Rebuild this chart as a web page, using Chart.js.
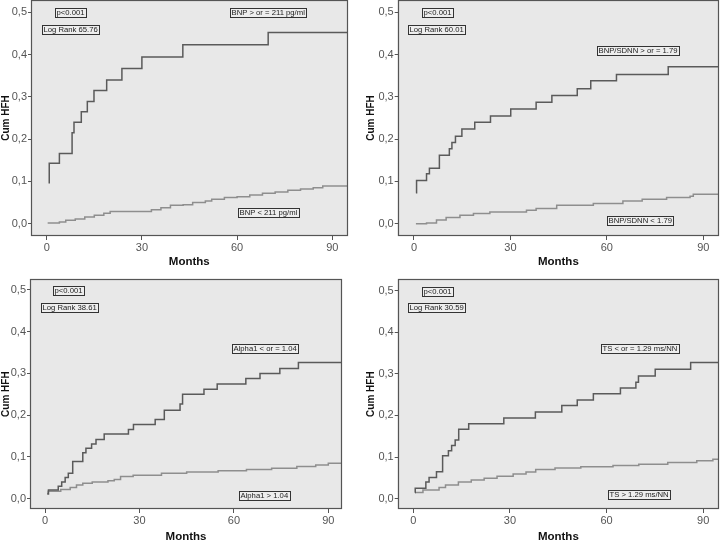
<!DOCTYPE html>
<html>
<head>
<meta charset="utf-8">
<script src="https://cdn.jsdelivr.net/npm/chart.js@4/dist/chart.umd.min.js"></script>
<style>
  html, body { margin: 0; padding: 0; background: #fff; }
  body { width: 720px; height: 540px; overflow: hidden; position: relative; }
  canvas { position: absolute; }
</style>
</head>
<body>
<canvas id="c1" width="360" height="272" style="left:0;top:-2px"></canvas>
<canvas id="c2" width="360" height="272" style="left:360px;top:-2px"></canvas>
<canvas id="c3" width="360" height="276" style="left:0;top:270px"></canvas>
<canvas id="c4" width="360" height="276" style="left:360px;top:270px"></canvas>
<script>
// tick labels
const xTicks = [0, 30, 60, 90];
const yTicks = [0, 0.1, 0.2, 0.3, 0.4, 0.5];

// BNP
const bnpHighMonths = [0.8, 0.8, 4.0, 8.0, 8.6, 10.9, 12.8, 14.9, 18.9, 23.7, 30.0, 42.9, 69.8, 95];
const bnpHighCum    = [0.095, 0.143, 0.166, 0.215, 0.240, 0.265, 0.289, 0.315, 0.340, 0.367, 0.394, 0.423, 0.452, 0.452];
const bnpLowMonths  = [0.3, 4, 6, 9, 12, 15, 18, 20, 33, 36, 39, 43, 46, 50, 52, 56, 60, 64, 68, 72, 76, 80, 84, 87, 95];
const bnpLowCum     = [0.002, 0.004, 0.008, 0.011, 0.016, 0.020, 0.025, 0.029, 0.033, 0.038, 0.044, 0.045, 0.050, 0.054, 0.058, 0.062, 0.064, 0.068, 0.072, 0.075, 0.079, 0.082, 0.085, 0.089, 0.089];

// BNP/SDNN
const bsHighMonths = [0.6, 0.8, 3.9, 4.8, 7.9, 11.0, 11.8, 12.9, 14.9, 18.9, 23.8, 30.1, 38.0, 42.9, 50.8, 55.0, 63.0, 79.1, 95];
const bsHighCum    = [0.073, 0.102, 0.118, 0.131, 0.162, 0.177, 0.192, 0.207, 0.224, 0.240, 0.255, 0.271, 0.287, 0.303, 0.319, 0.338, 0.353, 0.371, 0.371];
const bsLowMonths  = [0.6, 3.9, 7, 10, 14.3, 18.5, 23.6, 35, 38, 44.4, 55.8, 65, 71, 78.6, 85.9, 86.9, 95];
const bsLowCum     = [0.0, 0.002, 0.009, 0.015, 0.020, 0.024, 0.028, 0.032, 0.036, 0.044, 0.048, 0.054, 0.058, 0.062, 0.065, 0.070, 0.070];

// Alpha1
const alphaLowMonths = [0.7, 1.1, 4.2, 5.3, 6.4, 7.4, 8.8, 12.0, 13.0, 14.8, 16.2, 18.8, 26.5, 28.1, 35.0, 37.9, 42.9, 43.7, 50.5, 54.7, 63.8, 68.3, 74.6, 80.5, 95];
const alphaLowCum    = [0.011, 0.021, 0.030, 0.040, 0.051, 0.061, 0.089, 0.110, 0.121, 0.131, 0.142, 0.155, 0.166, 0.178, 0.190, 0.212, 0.227, 0.250, 0.262, 0.275, 0.288, 0.300, 0.312, 0.326, 0.326];
const alphaHighMonths = [0.7, 1, 5, 8, 10, 12, 15, 20, 22, 24, 28, 37, 45, 55, 64, 72, 80, 86, 90, 95];
const alphaHighCum    = [0.013, 0.018, 0.022, 0.027, 0.033, 0.037, 0.040, 0.043, 0.046, 0.053, 0.056, 0.061, 0.064, 0.067, 0.070, 0.073, 0.077, 0.081, 0.085, 0.085];

// TS
const tsLowMonths = [0.5, 0.6, 3.9, 4.9, 7.2, 9.1, 10.9, 11.9, 13.0, 14.1, 17.2, 28.1, 37.9, 46.1, 50.9, 55.9, 64.3, 69.1, 69.9, 75.1, 86.1, 95];
const tsLowCum    = [0.015, 0.025, 0.040, 0.051, 0.065, 0.103, 0.115, 0.128, 0.141, 0.167, 0.180, 0.194, 0.208, 0.224, 0.237, 0.252, 0.266, 0.280, 0.295, 0.311, 0.327, 0.327];
const tsHighMonths = [0.5, 3, 8, 10, 14, 18, 22, 26, 31, 35, 38, 44, 52, 62, 70, 79, 88, 93, 95];
const tsHighCum    = [0.015, 0.021, 0.027, 0.033, 0.040, 0.045, 0.049, 0.054, 0.059, 0.064, 0.070, 0.074, 0.077, 0.080, 0.083, 0.087, 0.091, 0.095, 0.095];

Chart.defaults.font.family = '"Liberation Sans", Arial, sans-serif';
Chart.defaults.animation = false;

const plotFrame = {
  id: 'plotFrame',
  beforeDraw(chart) {
    const { ctx, chartArea: a } = chart;
    ctx.save();
    ctx.fillStyle = '#e8e8e8';
    ctx.fillRect(a.left, a.top, a.width, a.height);
    ctx.restore();
  },
  afterDatasetsDraw(chart) {
    const { ctx, chartArea: a } = chart;
    ctx.save();
    ctx.strokeStyle = '#555';
    ctx.lineWidth = 1.2;
    ctx.strokeRect(Math.round(a.left) + 0.5, Math.round(a.top) + 0.5, Math.round(a.width) - 1, Math.round(a.height) - 1);
    ctx.restore();
  }
};

// boxed text notes, anchored at left edge / vertical centre in data units
const boxLabels = {
  id: 'boxLabels',
  afterDraw(chart, args, opts) {
    const { ctx } = chart;
    const x = chart.scales.x, y = chart.scales.y;
    ctx.save();
    ctx.font = '7.7px "Liberation Sans", Arial, sans-serif';
    ctx.textBaseline = 'middle';
    (opts.items || []).forEach(it => {
      const px = Math.round(x.getPixelForValue(it.x));
      const py = Math.round(y.getPixelForValue(it.y));
      const w = Math.round(ctx.measureText(it.text).width + 3);
      const h = 9;
      ctx.fillStyle = '#eeeeee';
      ctx.fillRect(px, py - 4, w, h);
      ctx.strokeStyle = '#333';
      ctx.lineWidth = 1;
      ctx.strokeRect(px + 0.5, py - 4 + 0.5, w, h);
      ctx.fillStyle = '#222';
      ctx.fillText(it.text, px + 1.5, py + 1);
    });
    ctx.restore();
  }
};

function pts(months, cum) {
  return months.map((m, i) => ({ x: m, y: cum[i] }));
}

function kmChart(id, spec) {
  new Chart(document.getElementById(id), {
    type: 'line',
    data: {
      datasets: [
        { data: pts(spec.upper[0], spec.upper[1]), borderColor: '#5a5a5a', borderWidth: 1.5 },
        { data: pts(spec.lower[0], spec.lower[1]), borderColor: '#8e8e8e', borderWidth: 1.5 }
      ].map(d => Object.assign(d, { stepped: true, pointRadius: 0, fill: false }))
    },
    options: {
      responsive: false,
      layout: { padding: spec.padding },
      plugins: {
        legend: { display: false },
        tooltip: { enabled: false },
        boxLabels: { items: spec.notes }
      },
      scales: {
        x: {
          type: 'linear', min: spec.xMin, max: spec.xMax,
          afterBuildTicks: s => { s.ticks = xTicks.map(v => ({ value: v })); },
          afterFit: s => { s.height = spec.xAxisH; s.paddingLeft = 0; s.paddingRight = 0; },
          grid: { drawOnChartArea: false, drawTicks: true, tickLength: 4, color: '#555' },
          border: { display: false },
          ticks: { color: '#555', font: { size: 11 }, padding: 1, maxRotation: 0, callback: v => String(v) },
          title: { display: true, text: 'Months', color: '#111', font: { size: 11.5, weight: 'bold' }, padding: { top: 0, bottom: spec.xTitlePad } }
        },
        y: {
          type: 'linear', min: spec.yMin, max: spec.yMax,
          afterBuildTicks: s => { s.ticks = yTicks.map(v => ({ value: v })); },
          afterFit: s => { s.width = spec.yAxisW; s.paddingTop = 0; s.paddingBottom = 0; },
          grid: { drawOnChartArea: false, drawTicks: true, tickLength: 3, color: '#555' },
          border: { display: false },
          ticks: { color: '#555', font: { size: 11 }, padding: 1, callback: v => v.toFixed(1).replace('.', ',') },
          title: { display: true, text: 'Cum HFH', color: '#111', font: { size: 10, weight: 'bold' }, padding: { top: spec.yTitlePad, bottom: 0 } }
        }
      }
    },
    plugins: [plotFrame, boxLabels]
  });
}

kmChart('c1', {
  upper: [bnpHighMonths, bnpHighCum], lower: [bnpLowMonths, bnpLowCum],
  xMin: -4.95, xMax: 94.8, yMin: -0.029, yMax: 0.529,
  padding: { left: 0, right: 12.5, top: 2, bottom: 0 }, yAxisW: 31, xAxisH: 34, xTitlePad: 1, yTitlePad: 0,
  notes: [
    { text: 'p<0.001', x: 2.6, y: 0.5 },
    { text: 'Log Rank 65.76', x: -1.6, y: 0.46 },
    { text: 'BNP > or = 211 pg/ml', x: 57.8, y: 0.5 },
    { text: 'BNP < 211 pg/ml', x: 60.4, y: 0.028 }
  ]
});

kmChart('c2', {
  upper: [bsHighMonths, bsHighCum], lower: [bsLowMonths, bsLowCum],
  xMin: -5.07, xMax: 94.9, yMin: -0.029, yMax: 0.529,
  padding: { left: 0, right: 1, top: 2, bottom: 0 }, yAxisW: 37.7, xAxisH: 34, xTitlePad: 1, yTitlePad: 5,
  notes: [
    { text: 'p<0.001', x: 2.4, y: 0.5 },
    { text: 'Log Rank 60.01', x: -1.8, y: 0.46 },
    { text: 'BNP/SDNN > or = 1.79', x: 57, y: 0.41 },
    { text: 'BNP/SDNN < 1.79', x: 60, y: 0.01 }
  ]
});

kmChart('c3', {
  upper: [alphaLowMonths, alphaLowCum], lower: [alphaHighMonths, alphaHighCum],
  xMin: -4.77, xMax: 94.35, yMin: -0.0247, yMax: 0.5256,
  padding: { left: 0, right: 18, top: 9.3, bottom: 0 }, yAxisW: 30, xAxisH: 37, xTitlePad: 2, yTitlePad: 0,
  notes: [
    { text: 'p<0.001', x: 2.6, y: 0.5 },
    { text: 'Log Rank 38.61', x: -1.4, y: 0.46 },
    { text: 'Alpha1 < or = 1.04', x: 59.5, y: 0.36 },
    { text: 'Alpha1 > 1.04', x: 61.7, y: 0.01 }
  ]
});

kmChart('c4', {
  upper: [tsLowMonths, tsLowCum], lower: [tsHighMonths, tsHighCum],
  xMin: -4.84, xMax: 94.9, yMin: -0.0248, yMax: 0.5271,
  padding: { left: 0, right: 1, top: 9.3, bottom: 0 }, yAxisW: 37.7, xAxisH: 37, xTitlePad: 2, yTitlePad: 5,
  notes: [
    { text: 'p<0.001', x: 2.6, y: 0.5 },
    { text: 'Log Rank 30.59', x: -1.5, y: 0.46 },
    { text: 'TS < or = 1.29 ms/NN', x: 58.2, y: 0.361 },
    { text: 'TS > 1.29 ms/NN', x: 60.5, y: 0.011 }
  ]
});
</script>
</body>
</html>
